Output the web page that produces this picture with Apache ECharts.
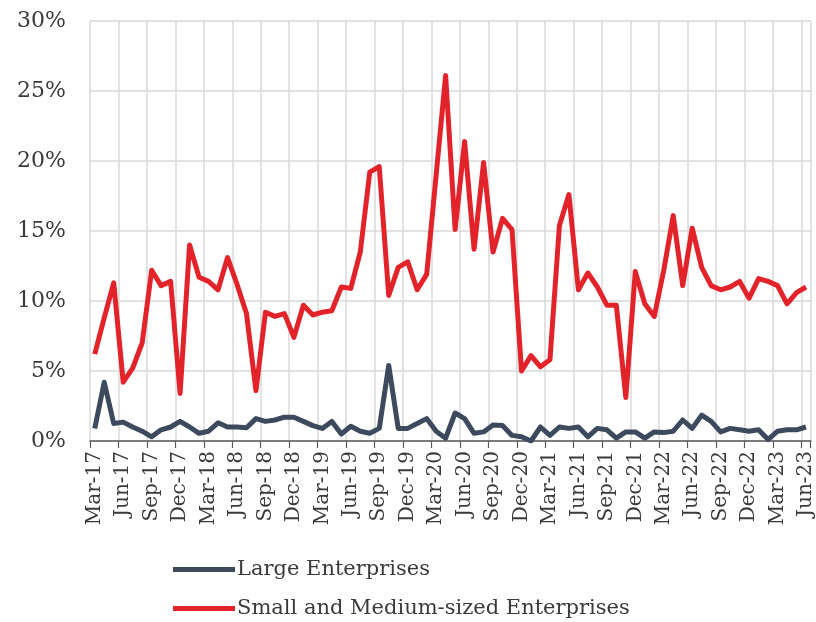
<!DOCTYPE html>
<html>
<head>
<meta charset="utf-8">
<script src="https://cdn.jsdelivr.net/npm/echarts@6/dist/echarts.min.js"></script>
<style>
html,body{margin:0;padding:0;background:#fff;}
#chart{width:816px;height:622px;}
</style>
</head>
<body>
<div id="chart"></div>
<script>
const monthNames = ['Jan','Feb','Mar','Apr','May','Jun','Jul','Aug','Sep','Oct','Nov','Dec'];
const months = [];
for (let y = 2017; y <= 2023; y++) {
  for (let m = 0; m < 12; m++) {
    if (y === 2017 && m < 2) continue;
    if (y === 2023 && m > 5) continue;
    months.push(monthNames[m] + '-' + String(y).slice(2));
  }
}
const largeEnterprises = [
  0.9, 4.2, 1.25, 1.35, 1.0, 0.7, 0.3, 0.8, 1.0, 1.4,
  1.0, 0.55, 0.7, 1.3, 1.0, 1.0, 0.95, 1.6, 1.4, 1.5,
  1.7, 1.7, 1.4, 1.1, 0.9, 1.4, 0.5, 1.05, 0.7, 0.55,
  0.9, 5.4, 0.9, 0.9, 1.25, 1.6, 0.7, 0.2, 2.0, 1.6,
  0.55, 0.65, 1.15, 1.1, 0.4, 0.3, 0.0, 1.0, 0.4, 1.0,
  0.9, 1.0, 0.3, 0.9, 0.8, 0.2, 0.65, 0.65, 0.2, 0.65,
  0.6, 0.7, 1.5, 0.9, 1.85, 1.4, 0.65, 0.9, 0.8, 0.7,
  0.8, 0.1, 0.7, 0.8, 0.8, 1.0
];
const smeEnterprises = [
  6.2, 8.8, 11.3, 4.2, 5.2, 7.0, 12.2, 11.1, 11.4, 3.4,
  14.0, 11.7, 11.4, 10.8, 13.1, 11.2, 9.1, 3.6, 9.2, 8.9,
  9.1, 7.4, 9.7, 9.0, 9.2, 9.3, 11.0, 10.9, 13.5, 19.2,
  19.6, 10.4, 12.4, 12.8, 10.8, 11.9, 19.0, 26.1, 15.1, 21.4,
  13.7, 19.9, 13.5, 15.9, 15.1, 5.0, 6.1, 5.3, 5.8, 15.4,
  17.6, 10.8, 12.0, 11.0, 9.7, 9.7, 3.1, 12.1, 9.8, 8.9,
  12.2, 16.1, 11.1, 15.2, 12.4, 11.1, 10.8, 11.0, 11.4, 10.2,
  11.6, 11.4, 11.1, 9.8, 10.6, 11.0
];
const seriesNames = ['Large Enterprises', 'Small and Medium-sized Enterprises'];

const font = 'DejaVu Serif';
const chart = echarts.init(document.getElementById('chart'), null, {renderer: 'canvas'});
chart.setOption({
  animation: false,
  backgroundColor: '#ffffff',
  grid: {left: 90, right: 5, top: 21, bottom: 181, containLabel: false},
  legend: {
    orient: 'vertical',
    left: 168,
    top: 554,
    width: 640,
    height: 70,
    itemWidth: 62,
    itemHeight: 5,
    itemGap: 18,
    icon: 'rect',
    textStyle: {fontFamily: font, fontSize: 21, color: '#3a3a3a', padding: [0, 0, 0, -3]},
    data: seriesNames
  },
  xAxis: {
    type: 'category',
    data: months,
    boundaryGap: true,
    axisLine: {show: true, lineStyle: {color: '#595959', width: 1.5}},
    axisTick: {show: true, interval: 2, length: 7, lineStyle: {color: '#595959', width: 1.2}},
    splitLine: {show: true, interval: 2, lineStyle: {color: '#d9d9d9', width: 1.5}},
    axisLabel: {
      interval: 2,
      rotate: 90,
      margin: 10,
      fontFamily: font,
      fontSize: 20,
      color: '#3a3a3a'
    }
  },
  yAxis: {
    type: 'value',
    min: 0,
    max: 30,
    interval: 5,
    axisLine: {show: false},
    axisTick: {show: false},
    splitLine: {show: true, lineStyle: {color: '#d9d9d9', width: 1.5}},
    axisLabel: {
      formatter: v => v + '%',
      margin: 24,
      fontFamily: font,
      fontSize: 22,
      color: '#3a3a3a'
    }
  },
  series: [
    {
      name: seriesNames[0],
      type: 'line',
      data: largeEnterprises,
      showSymbol: false,
      symbol: 'none',
      lineStyle: {color: '#3d4a5e', width: 5, join: 'round'},
      itemStyle: {color: '#3d4a5e'},
      z: 3
    },
    {
      name: seriesNames[1],
      type: 'line',
      data: smeEnterprises,
      showSymbol: false,
      symbol: 'none',
      lineStyle: {color: '#e3232a', width: 5, join: 'round'},
      itemStyle: {color: '#e3232a'},
      z: 2
    }
  ]
});
</script>
</body>
</html>
